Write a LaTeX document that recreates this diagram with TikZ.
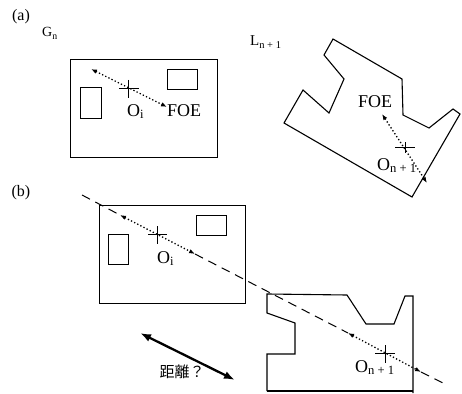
\documentclass[tikz,border=0pt]{standalone}
\usepackage{fontspec}
\setmainfont{Liberation Serif}
\newfontfamily\jpfont{Noto Sans CJK JP}
\usetikzlibrary{arrows.meta}

\begin{document}
\begin{tikzpicture}[x=1pt,y=-1pt,
    >=Latex,
    frame/.style={draw,line width=0.8pt},
    outline/.style={draw,line width=1.1pt,line join=miter},
    ray/.style={line width=1.3pt,dash pattern=on 1.3pt off 2.2pt,
      {Latex[length=6pt,width=4.5pt]}-{Latex[length=6pt,width=4.5pt]}},
    axisline/.style={line width=1pt,dash pattern=on 9pt off 6pt},
    crossbar/.style={line width=0.8pt},
    gap/.style={line width=2.3pt,{Latex[length=11pt,width=8pt]}-{Latex[length=11pt,width=8pt]}},
    lbl/.style={font=\fontsize{18}{20}\selectfont,inner sep=0pt,anchor=base west},
    every node/.style={inner sep=0pt}]
  \useasboundingbox (0,0) rectangle (462,393);
  % ---- (a): the two views apart ----
  \node[lbl,anchor=center,font=\fontsize{16}{18}\selectfont] (tagA) at (21,17) {(a)};
  \node[lbl,font=\fontsize{14}{16}\selectfont] (gA) at (42,37) {G\textsubscript{n}};
  \node[lbl,font=\fontsize{15}{17}\selectfont] (lA) at (250,46) {L\textsubscript{n + 1}};
  % G_n frame with its two boxes
  \draw[frame] (70,59) rectangle (217,157);
  \draw[frame] (80,87) rectangle (101,118);
  \draw[frame] (167,69) rectangle (197,89);
  \coordinate (oiA) at (128,88);
  \draw[crossbar] (oiA) ++(-9,0) -- ++(20,0) (oiA) ++(0,-8) -- ++(0,18);
  \coordinate (rayA1) at (91,69);
  \coordinate (rayA2) at (167,107);
  \draw[ray] (rayA1) -- (rayA2);
  \node[lbl] (oiLblA) at (127,116) {O\textsubscript{i}};
  \node[lbl] (foeA) at (167,116) {FOE};
  % L_{n+1} outline, turned
  \draw[outline] (333,39) -- (402,79) -- (403,115) -- (429,128) -- (453,109)
    -- (460,114) -- (412,197) -- (284,123) -- (303,90) -- (329,113)
    -- (344,79) -- (324,55) -- cycle;
  \coordinate (onA) at (405,147);
  \draw[crossbar] (onA) ++(-10,0) -- ++(20,0) (onA) ++(0,-5) -- ++(0,11);
  \coordinate (rayB1) at (382,114);
  \coordinate (rayB2) at (427,183);
  \draw[ray] (rayB1) -- (rayB2);
  \node[lbl] (foeB) at (358,107) {FOE};
  \node[lbl] (onLblA) at (377,170) {O\textsubscript{n + 1}};
  % ---- (b): laid on one line ----
  \node[lbl,anchor=center,font=\fontsize{16}{18}\selectfont] (tagB) at (21,193) {(b)};
  \draw[frame] (99,205) rectangle (245,303);
  \draw[frame] (108,234) rectangle (128,264);
  \draw[frame] (196,215) rectangle (226,235);
  \coordinate (oiB) at (157,234);
  \draw[crossbar] (oiB) ++(-9,0) -- ++(19,0) (oiB) ++(0,-8) -- ++(0,18);
  \node[lbl] (oiLblB) at (157,263) {O\textsubscript{i}};
  \draw[outline] (268,294) -- (347,295) -- (366,324) -- (394,324) -- (405,296)
    -- (413,296) -- (413,393) (267,391) -- (267,354) -- (295,354)
    -- (295,323) -- (267,313) -- (267,294) -- (268,294);
  \draw[outline] (267,391) -- (413,391);
  \coordinate (onB) at (385,353);
  \draw[crossbar] (onB) ++(-10,0) -- ++(20,0) (onB) ++(0,-8) -- ++(0,18);
  \node[lbl] (onLblB) at (355,372) {O\textsubscript{n + 1}};
  % common line: dashes outside, dotted rays inside
  \coordinate (axisStart) at (82,195);
  \coordinate (rayC1) at (120,215);
  \coordinate (rayC2) at (195,254);
  \coordinate (rayD1) at (348,333);
  \coordinate (rayD2) at (421,372);
  \coordinate (axisEnd) at (443,383);
  \draw[axisline] (axisStart) -- (rayC1);
  \draw[axisline] (rayC2) -- (rayD1);
  \draw[axisline] (rayD2) -- (axisEnd);
  \draw[ray] (rayC1) -- (rayC2);
  \draw[ray] (rayD1) -- (rayD2);
  % distance?
  \coordinate (gap1) at (140,333);
  \coordinate (gap2) at (235,380);
  \draw[gap] (gap1) -- (gap2);
  \node[font=\jpfont\fontsize{15}{17}\selectfont] (dist) at (182,372) {距離？};
\end{tikzpicture}
\end{document}
